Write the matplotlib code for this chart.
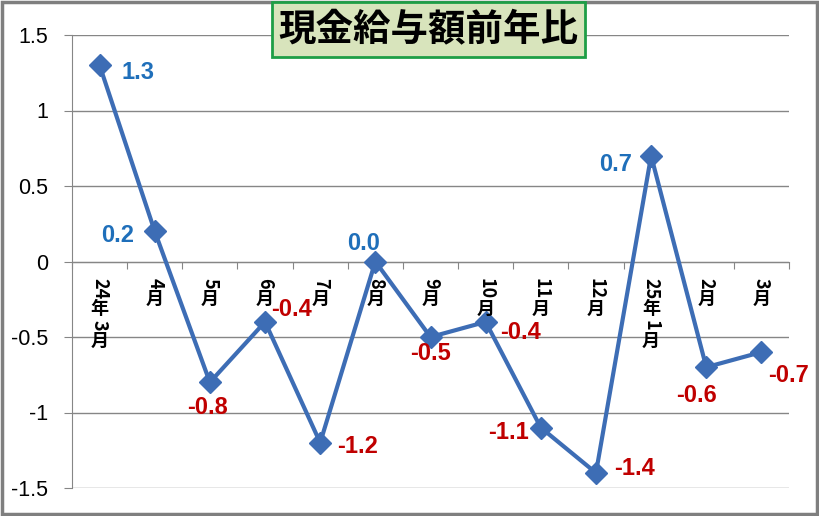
import re
import matplotlib.pyplot as plt
from matplotlib.patches import Rectangle

# data
months = ['24年3月', '4月', '5月', '6月', '7月', '8月', '9月', '10月', '11月', '12月', '25年1月', '2月', '3月']
values = [1.3, 0.2, -0.8, -0.4, -1.2, 0.0, -0.5, -0.4, -1.1, -1.4, 0.7, -0.7, -0.6]
label_text = ['1.3', '0.2', '-0.8', '-0.4', '-1.2', '0.0', '-0.5', '-0.4', '-1.1', '-1.4', '0.7', '-0.6', '-0.7']
yticks = [-1.5, -1, -0.5, 0, 0.5, 1, 1.5]

# where each data label sits relative to its point (pixels)
label_offsets = [(38, -7), (-37, -4), (-2, -25), (26, 12), (37, -4), (-12, 18), (0, -17),
                 (35, -11), (-32, -5), (39, 4), (-36, -9), (-10, -28), (27, -23)]

num_font = ['Liberation Sans', 'Noto Sans CJK JP']
cjk_font = ['Noto Sans CJK JP', 'DejaVu Sans']

fig = plt.figure(figsize=(8.19, 5.16), dpi=100)
ax = fig.add_axes([72 / 819, 1 - 488 / 516, (789 - 72) / 819, (488 - 35) / 516])

x = list(range(len(months)))
ax.plot(x, values, color='#3d6db5', lw=3, marker='D', markersize=11.5, zorder=3)

ax.set_xlim(-0.5, len(months) - 0.5)
ax.set_ylim(-1.5, 1.5)
ax.set_yticks(yticks)
ax.set_yticklabels(['-1.5', '-1', '-0.5', '0', '0.5', '1', '1.5'], fontsize=15.5, family=num_font)
ax.tick_params(axis='y', length=6, color='#868686', pad=11)
ax.grid(axis='y', color='#868686', lw=1)
ax.set_axisbelow(True)

for s in ['top', 'right']:
    ax.spines[s].set_visible(False)
ax.spines['left'].set_color('#868686')
ax.spines['bottom'].set_position(('data', 0))
ax.spines['bottom'].set_color('#868686')
ax.set_xticks([i - 0.5 for i in range(len(months) + 1)])
ax.set_xticklabels([])
ax.tick_params(axis='x', length=5, color='#868686', direction='out')

# vertical category labels: digits rotated, kanji upright
px = 0.72
fs = 13
for i, lab in enumerate(months):
    off = 16 * px
    for run in re.findall(r'\d+|\D', lab):
        if run.isdigit():
            ax.annotate(run, (i, 0), xytext=(0, -off), textcoords='offset points',
                        ha='center', va='top', rotation=-90, fontsize=fs,
                        fontweight='bold', family=cjk_font)
            off += 0.55 * fs * len(run) + 1.5
        else:
            ax.annotate(run, (i, 0), xytext=(0, -off), textcoords='offset points',
                        ha='center', va='top', fontsize=fs,
                        fontweight='bold', family=cjk_font)
            off += 1.15 * fs

# data labels
for i, (v, t) in enumerate(zip(values, label_text)):
    dx, dy = label_offsets[i]
    col = '#c00000' if t.startswith('-') else '#1f6fba'
    ax.annotate(t, (i, v), xytext=(dx * px, dy * px), textcoords='offset points',
                ha='center', va='center', fontsize=17, fontweight='bold',
                color=col, family=num_font)

# title box
fig.patches.append(Rectangle((272 / 819, 1 - 57 / 516), 313 / 819, 55 / 516, transform=fig.transFigure,
                             facecolor='#d8e4bc', edgecolor='#1e9e46', lw=2, zorder=5))
fig.text(428 / 819, 1 - 30 / 516, '現金給与額前年比', ha='center', va='center',
         fontsize=27, fontweight='bold', family=cjk_font, zorder=6)

# outer frame
fig.patches.append(Rectangle((0.002, 0.003), 0.996, 0.994, transform=fig.transFigure,
                             fill=False, edgecolor='#7f7f7f', lw=2.5))

fig.savefig('out.png', dpi=100)
